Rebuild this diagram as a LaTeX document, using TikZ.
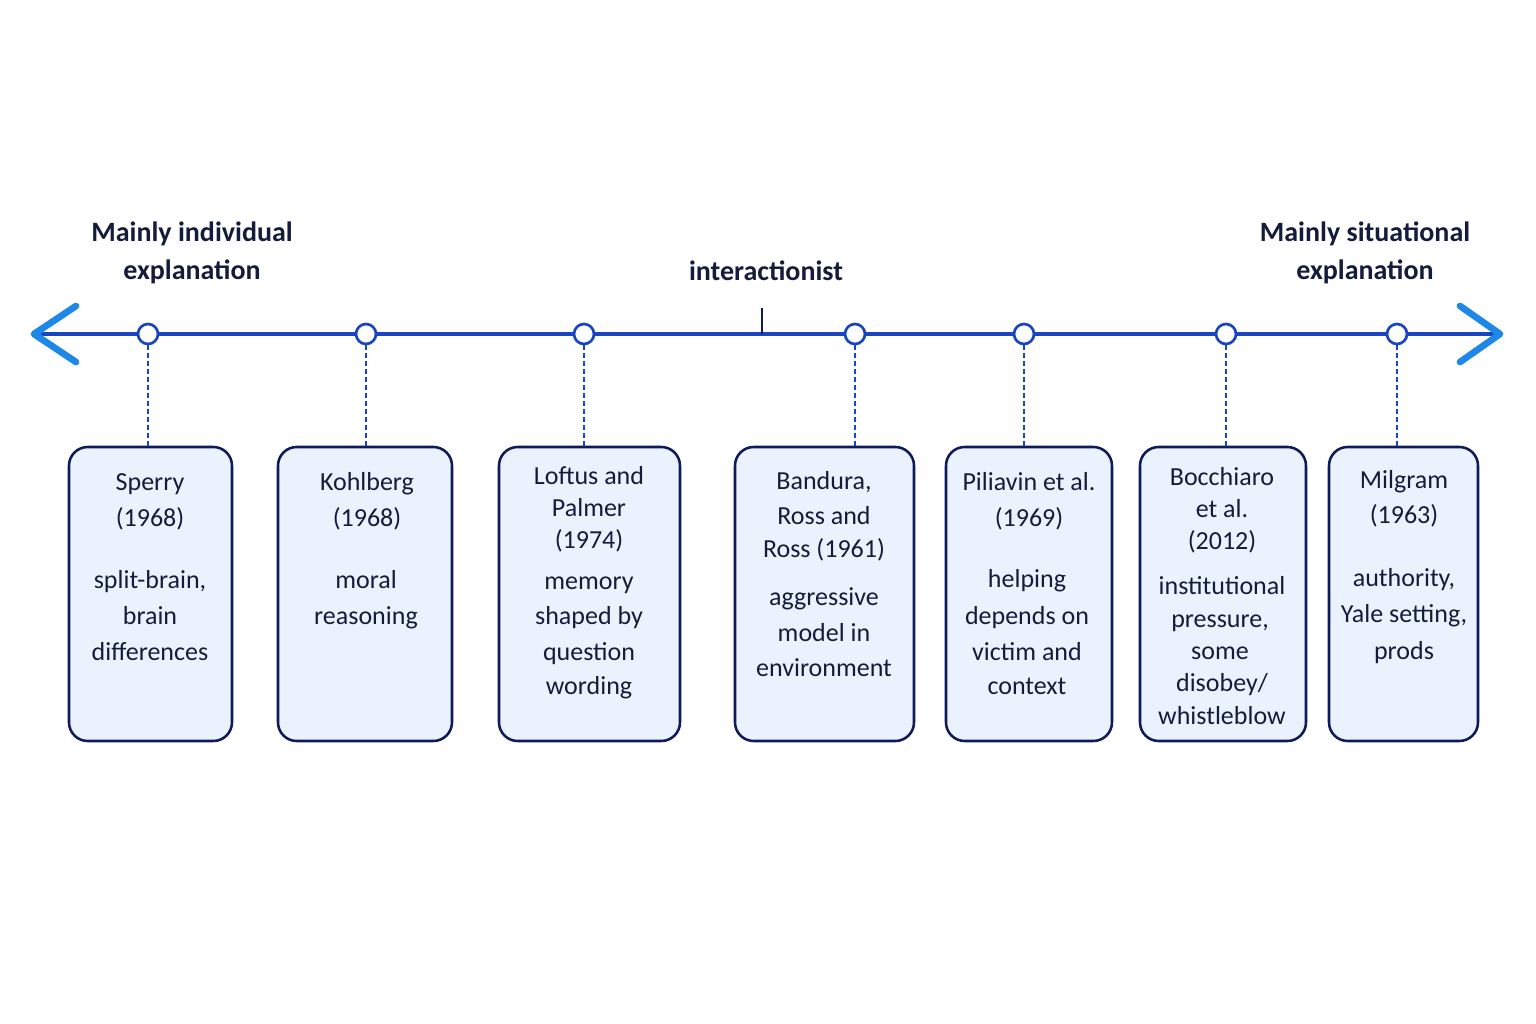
\documentclass[tikz,border=0pt]{standalone}
\usepackage{fontspec}
\setmainfont{Carlito}
\definecolor{axis}{HTML}{1A45C2}
\definecolor{chev}{HTML}{1E88E8}
\definecolor{navy}{HTML}{0E1A5A}
\definecolor{ink}{HTML}{141C3C}
\definecolor{boxfill}{HTML}{EAF3FD}
\begin{document}
\begin{tikzpicture}[x=0.75pt,y=-0.75pt,
  box/.style={draw=navy,line width=1.9pt,fill=boxfill,rounded corners=14pt},
  dot/.style={circle,draw=axis,line width=2pt,fill=white,minimum size=15pt,inner sep=0pt},
  conn/.style={axis,dash pattern=on 3.5pt off 2.5pt,line width=1.2pt},
  lbl/.style={font=\fontsize{19.5}{22}\selectfont,text=ink,inner sep=0pt},
  hdr/.style={font=\bfseries\fontsize{21}{28}\selectfont,text=ink,align=center,inner sep=0pt}]
\useasboundingbox (0,0) rectangle (1536,1024);
\fill[white] (0,0) rectangle (1536,1024);
\node[hdr] (h1) at (192,253) {Mainly individual\\[1pt]explanation};
\node[hdr] (h2) at (766,271) {interactionist};
\node[hdr] (h3) at (1365,253) {Mainly situational\\[1pt]explanation};
\coordinate (L) at (34,334);
\coordinate (R) at (1500,334);
\draw[axis,line width=3.4pt] (L) -- (R);
\draw[chev,line width=5pt,line cap=round,line join=round] (76,306) -- (L) -- (76,362);
\draw[chev,line width=5pt,line cap=round,line join=round] (1460,306) -- (R) -- (1460,362);
\coordinate (t1) at (762,308); \coordinate (t2) at (762,334);
\draw[navy,line width=2pt] (t1) -- (t2);
\foreach \n/\cx/\xa/\xb in {a/148/69/232, b/366/278/452, c/584/499/680, d/855/735/914, e/1024/946/1112, f/1226/1140/1306, g/1397/1329/1478}{
  \node[box,minimum width={(\xb-\xa)*0.75pt},minimum height={294*0.75pt}] (box\n) at ({(\xa+\xb)/2},594) {};
  \coordinate (top\n) at (\cx,447);
  \node[dot] (dot\n) at (\cx,334) {};
  \draw[conn] (dot\n) -- (top\n);
}
\foreach \i/\x/\y/\t in {
 1/150/482/{Sperry},2/150/518/{(1968)},3/150/580/{split-brain,},4/150/616/{brain},5/150/652/{differences},
 6/367/482/{Kohlberg},7/367/518/{(1968)},8/366/580/{moral},9/366/616/{reasoning},
 10/589/476/{Loftus and},11/589/508/{Palmer},12/589/540/{(1974)},13/589/581/{memory},14/589/616/{shaped by},15/589/652/{question},16/589/686/{wording},
 17/824/481/{Bandura,},18/824/516/{Ross and},19/824/549/{Ross (1961)},20/824/597/{aggressive},21/824/633/{model in},22/824/668/{environment},
 23/1029/482/{Piliavin et al.},24/1029/518/{(1969)},25/1027/579/{helping},26/1027/616/{depends on},27/1027/652/{victim and},28/1027/686/{context},
 29/1222/477/{Bocchiaro},30/1222/509/{et al.},31/1222/541/{(2012)},32/1222/586/{institutional},33/1220/619/{pressure,},34/1220/651/{some},35/1222/683/{disobey/},36/1222/716/{whistleblow},
 37/1404/480/{Milgram},38/1404/515/{(1963)},39/1404/578/{authority,},40/1404/614/{Yale setting,},41/1404/651/{prods}}{
  \node[lbl] (t\i) at (\x,\y+3) {\strut\t};
}
\end{tikzpicture}
\end{document}
